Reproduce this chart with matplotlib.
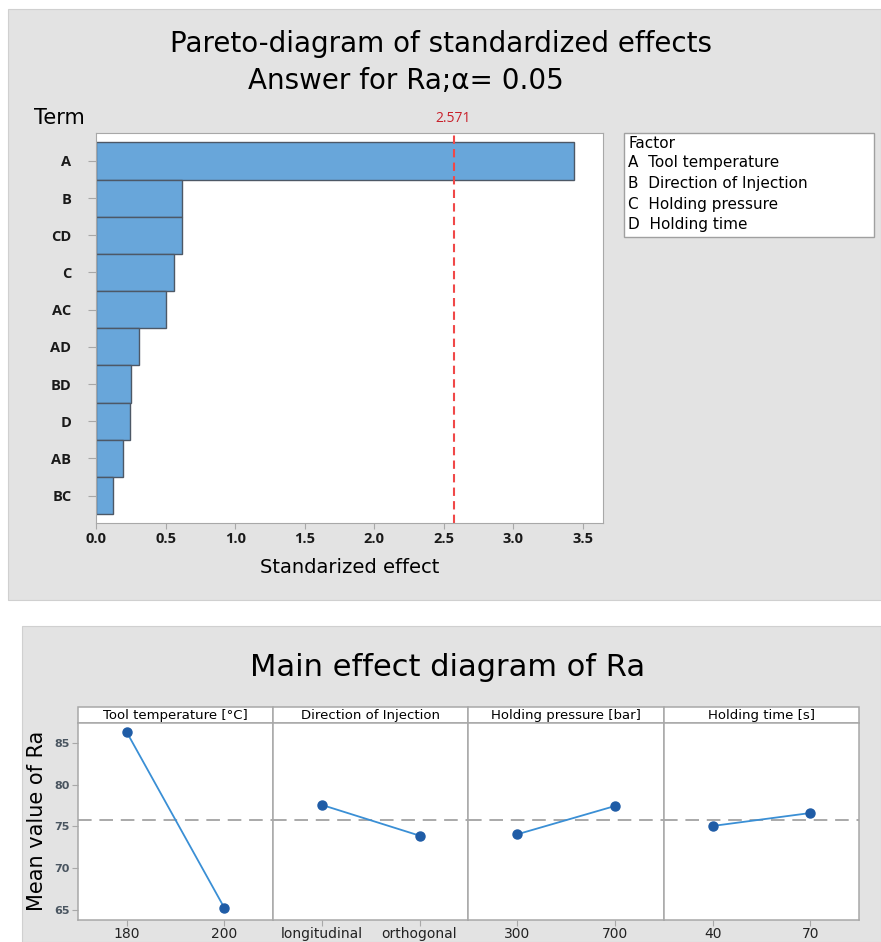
import matplotlib.pyplot as plt
from matplotlib.patches import Rectangle
import numpy as np

# Pareto of standardized effects
terms = ["A", "B", "CD", "C", "AC", "AD", "BD", "D", "AB", "BC"]
effects = [3.44, 0.615, 0.615, 0.556, 0.504, 0.309, 0.252, 0.242, 0.191, 0.116]
t_crit = 2.571
factors = ["A  Tool temperature", "B  Direction of Injection",
           "C  Holding pressure", "D  Holding time"]

# main effects (two levels per factor)
me_titles = ["Tool temperature [°C]", "Direction of Injection",
             "Holding pressure [bar]", "Holding time [s]"]
me_levels = [["180", "200"], ["longitudinal", "orthogonal"],
             ["300", "700"], ["40", "70"]]
me_means = [[86.3, 65.24], [77.56, 73.89], [74.05, 77.44], [75.05, 76.6]]

title_font = ["Liberation Sans Narrow", "DejaVu Sans"]
bg = "#e3e3e3"
axis_gray = "#a8a8a8"

fig = plt.figure(figsize=(8.81, 9.42), dpi=100)
W, H = 881, 942

def fx(px):
    return px / W

def fy(py):
    return 1 - py / H

# gray panels behind both charts
fig.patches.append(Rectangle((fx(8), fy(600)), 1 - fx(8), fy(9) - fy(600),
                             transform=fig.transFigure, facecolor=bg,
                             edgecolor="#d0d0d0", lw=0.8, zorder=-5))
fig.patches.append(Rectangle((fx(22), 0), 1 - fx(22), fy(626),
                             transform=fig.transFigure, facecolor=bg,
                             edgecolor="#d0d0d0", lw=0.8, zorder=-5))

# ---- Pareto chart ----
ax = fig.add_axes([fx(96.4), fy(522.7), fx(603) - fx(96.4), fy(132.7) - fy(522.7)])
ax.set_zorder(2)
y = np.arange(len(terms))
ax.barh(y, effects, height=1.0, color="#68a6da", edgecolor="#4d5866", lw=1.0)
ax.axvline(t_crit, color="#f04848", ls=(0, (4, 2.5)), lw=1.5)
ax.set_ylim(len(terms) - 1 + 0.73, -0.76)
ax.set_xlim(0, 3.647)
ax.set_yticks(y)
ax.set_yticklabels(terms, fontfamily="Open Sans", fontweight="bold",
                   fontsize=10.5, color="#1a1a1a")
ax.set_xticks(np.arange(0, 3.51, 0.5))
ax.set_xticklabels([f"{v:.1f}" for v in np.arange(0, 3.51, 0.5)],
                   fontfamily="Open Sans", fontweight="bold",
                   fontsize=10.5, color="#1a1a1a")
ax.tick_params(axis="y", length=6, color=axis_gray, pad=12)
ax.tick_params(axis="x", length=4, color=axis_gray, pad=3)
for s in ax.spines.values():
    s.set_color(axis_gray)
ax.set_xlabel("Standarized effect", fontsize=14, labelpad=8)
ax.text(t_crit, -0.93, f"{t_crit}", color="#c8202a", fontsize=10,
        fontfamily="Open Sans", ha="center", va="bottom",
        transform=ax.transData, clip_on=False)

fig.text(fx(441), fy(44), "Pareto-diagram of standardized effects",
         family=title_font, fontsize=20, ha="center", va="center")
fig.text(fx(406), fy(81), "Answer for Ra;α= 0.05",
         family=title_font, fontsize=20, ha="center", va="center")
fig.text(fx(34), fy(118), "Term", family=title_font, fontsize=15,
         ha="left", va="center")

# factor key
fig.patches.append(Rectangle((fx(624), fy(237)), fx(874) - fx(624), fy(133) - fy(237),
                             transform=fig.transFigure, facecolor="white",
                             edgecolor="#a0a0a0", lw=1.0, zorder=1))
fig.text(fx(628), fy(143), "Factor", fontsize=11, ha="left", va="center", zorder=2)
for i, f in enumerate(factors):
    fig.text(fx(628), fy(163 + 20.5 * i), f, fontsize=11, ha="left",
             va="center", zorder=2)

# ---- main effects ----
fig.text(fx(448), fy(667), "Main effect diagram of Ra", family=title_font,
         fontsize=22, ha="center", va="center")

grand = np.mean(me_means)
edges = [77.7, 273.3, 468.3, 664, 859.3]
for k in range(4):
    a = fig.add_axes([fx(edges[k]), fy(920), fx(edges[k + 1]) - fx(edges[k]),
                      fy(722.7) - fy(920)])
    a.set_zorder(2)
    a.axhline(grand, color="#a9a9a9", ls=(0, (7, 4)), lw=1.4, zorder=1)
    a.plot([0, 1], me_means[k], color="#3a8fd5", lw=1.3, zorder=2)
    a.plot([0, 1], me_means[k], ls="none", marker="o", ms=6.5,
           color="#1f5ca6", zorder=3)
    a.set_xlim(-0.5, 1.5)
    a.set_ylim(63.8, 87.4)
    a.set_xticks([0, 1])
    a.set_xticklabels(me_levels[k], fontsize=10, color="#222222")
    a.tick_params(axis="x", length=4, color=axis_gray, pad=1)
    if k == 0:
        a.set_yticks([65, 70, 75, 80, 85])
        a.set_yticklabels(["65", "70", "75", "80", "85"], fontsize=8,
                          fontweight="bold", color="#4a5560")
        a.tick_params(axis="y", length=4, color=axis_gray, pad=2)
        a.set_ylabel("Mean value of Ra", fontsize=15, labelpad=5)
    else:
        a.set_yticks([])
    for s in a.spines.values():
        s.set_color(axis_gray)
        s.set_linewidth(1.1)
    # strip header
    fig.patches.append(Rectangle((fx(edges[k]), fy(722.7)),
                                 fx(edges[k + 1]) - fx(edges[k]),
                                 fy(707.3) - fy(722.7),
                                 transform=fig.transFigure, facecolor="white",
                                 edgecolor=axis_gray, lw=1.1, zorder=1))
    fig.text((fx(edges[k]) + fx(edges[k + 1])) / 2, fy(715), me_titles[k],
             fontsize=9.5, ha="center", va="center", zorder=2)

fig.savefig("out.png", dpi=100, facecolor="white")
